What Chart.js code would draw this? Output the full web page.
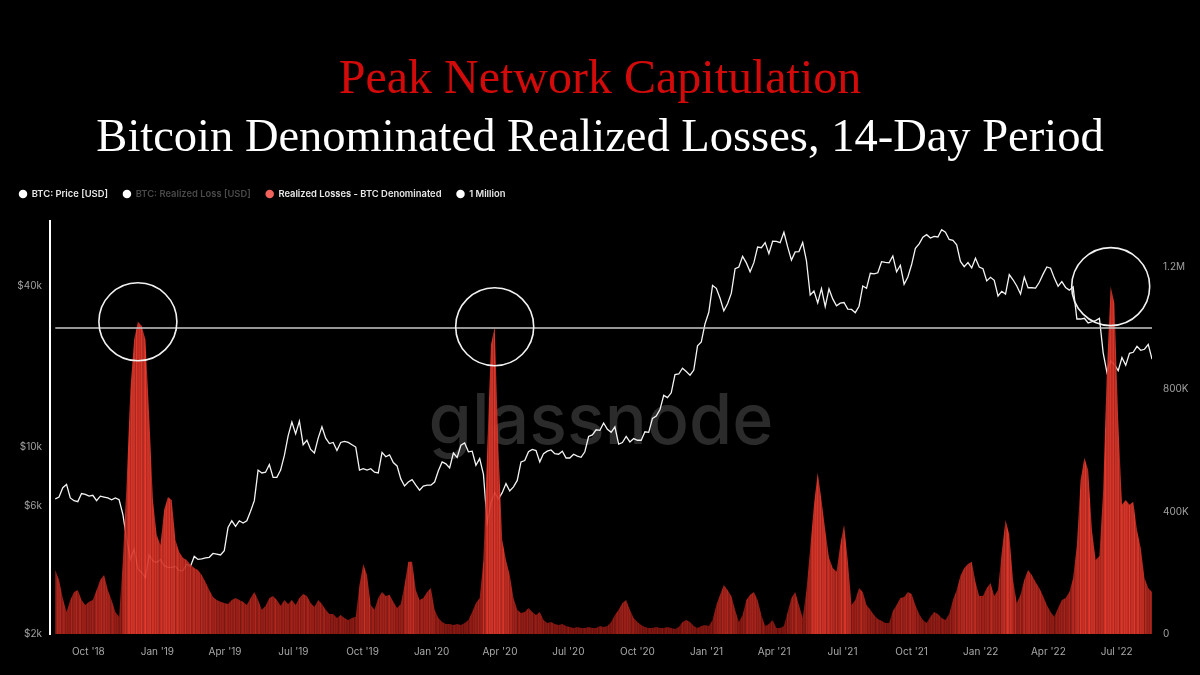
<!DOCTYPE html>
<html>
<head>
<meta charset="utf-8">
<script src="https://cdn.jsdelivr.net/npm/chart.js@4.4.1/dist/chart.umd.min.js"></script>
<style>
html,body{margin:0;padding:0;background:#000;}
canvas{display:block;}
</style>
</head>
<body>
<canvas id="c" width="1200" height="675"></canvas>
<script>
// ---------------- data ----------------
const seriesStart = '2018-08-18';
const stepDays = 5;

// BTC price (USD), one value every 5 days from 2018-08-18
const priceUsd = [
6400,6500,7050,7250,6450,6300,6250,6700,6650,6550,
6600,6300,6550,6500,6450,6350,6450,6350,5600,4550,
3800,4150,3500,3400,3250,3950,3750,3700,3800,3600,
3550,3550,3580,3450,3450,3650,3580,3900,3800,3820,
3850,3870,4000,3980,3950,4100,5000,5300,5050,5300,
5200,5300,5750,6300,8200,8000,8050,8600,7700,7700,
8200,9300,11000,12400,11200,12500,10200,10600,9800,9500,
10800,11900,10800,10300,10400,9700,10400,10500,10400,10200,
10000,8200,8300,8200,8300,8050,8000,9550,9200,9350,
8750,8500,7600,7150,7400,7550,7200,6900,7150,7200,
7200,7400,8150,8800,8650,8350,9500,9150,10150,10350,
9600,9650,8550,9050,7900,5200,6200,6750,6400,6750,
7300,6850,7100,7500,8800,8900,9600,9800,9700,8800,
9450,9650,9750,9450,9400,9650,9100,9100,9400,9250,
9150,9600,10950,11100,11600,11550,12300,11650,11350,11900,
10250,10400,10950,10450,10750,10600,10600,11400,11350,12800,
13050,13800,15600,15300,15950,18650,18750,19700,19150,18550,
19400,23900,24700,28900,31900,40200,39200,36000,32300,34300,
37600,46400,47100,51600,48800,45200,48900,55900,55600,58100,
52800,58800,58700,58100,63500,56000,50000,53600,53800,58200,
49700,37000,38300,34600,39100,33500,39000,35800,33700,34500,
34700,32800,32700,31800,33600,40000,39200,44600,44400,44800,
49300,49000,48800,51800,45200,47800,40600,43200,48100,55300,
57500,60900,62200,60400,61300,61000,64900,63600,59700,59200,
57000,49400,47200,48900,46700,50800,47100,46400,41800,43100,
42000,36700,38200,37300,44100,42200,40000,37300,43200,39400,
39400,39300,41300,44300,47100,46600,42800,39900,41500,39500,
38600,39700,30100,30100,30300,29100,29400,29700,30300,22500,
19000,21000,20300,19300,21600,20200,22400,22600,23800,23000,
23200,24200,21300
];

// Realized losses, BTC denominated, 14-day sum (BTC), same dates
const lossBtc = [
209000,177000,118000,72000,111000,137000,144000,111000,95000,105000,
111000,144000,177000,193000,144000,111000,72000,56000,242000,494000,
798000,962000,1020000,1007000,962000,716000,438000,324000,291000,406000,
448000,438000,307000,268000,249000,242000,226000,216000,209000,193000,
170000,144000,121000,111000,105000,101000,98000,111000,118000,111000,
105000,95000,118000,137000,111000,79000,92000,118000,124000,111000,
92000,111000,98000,111000,95000,118000,131000,124000,101000,88000,
111000,98000,79000,65000,65000,52000,62000,52000,46000,52000,
56000,160000,229000,193000,95000,79000,118000,137000,124000,128000,
105000,85000,98000,160000,236000,236000,144000,111000,118000,137000,
150000,79000,52000,39000,33000,33000,29000,33000,29000,36000,
46000,72000,101000,118000,242000,602000,945000,1004000,602000,307000,
242000,193000,118000,79000,69000,72000,85000,72000,62000,72000,
46000,36000,39000,33000,29000,33000,26000,23000,20000,23000,
20000,20000,23000,20000,20000,26000,23000,26000,39000,62000,
79000,101000,111000,79000,52000,39000,29000,23000,20000,20000,
23000,20000,20000,23000,20000,16000,23000,39000,46000,39000,
26000,20000,26000,29000,26000,46000,95000,128000,160000,144000,
124000,79000,39000,62000,111000,128000,137000,111000,62000,26000,
33000,46000,20000,20000,26000,72000,118000,137000,95000,52000,
144000,281000,422000,527000,438000,340000,249000,216000,203000,291000,
357000,242000,95000,111000,150000,137000,95000,79000,62000,49000,
43000,36000,36000,75000,95000,118000,121000,137000,131000,95000,
65000,46000,36000,56000,72000,65000,52000,46000,65000,111000,
144000,190000,216000,229000,236000,170000,124000,124000,150000,167000,
124000,144000,268000,373000,324000,177000,101000,128000,177000,209000,
193000,170000,150000,124000,95000,72000,56000,85000,111000,118000,
137000,183000,291000,504000,576000,536000,340000,242000,255000,471000,
864000,1135000,1080000,700000,422000,438000,422000,432000,340000,281000,
183000,150000,137000
];

const oneMillion = 1000000;

const xRangeDates = ['2018-08-11', '2022-08-17'];
const xTickDates = ['2018-10-01','2019-01-01','2019-04-01','2019-07-01','2019-10-01','2020-01-01','2020-04-01','2020-07-01',
                    '2020-10-01','2021-01-01','2021-04-01','2021-07-01','2021-10-01','2022-01-01','2022-04-01','2022-07-01'];
const xTickLabels = ["Oct '18","Jan '19","Apr '19","Jul '19","Oct '19","Jan '20","Apr '20","Jul '20",
                     "Oct '20","Jan '21","Apr '21","Jul '21","Oct '21","Jan '22","Apr '22","Jul '22"];
const priceTicks = [2000, 6000, 10000, 40000];
const priceRange = [2000, 70100];
const lossTicks = [0, 400000, 800000, 1200000];
const lossRange = [0, 1350000];
const circledPeakDates = ['2018-12-07', '2020-03-25', '2022-06-23'];
const legendNames = ['BTC: Price [USD]', 'BTC: Realized Loss [USD]', 'Realized Losses - BTC Denominated', '1 Million'];
const titleText = 'Peak Network Capitulation';
const subtitleText = 'Bitcoin Denominated Realized Losses, 14-Day Period';
const watermarkText = 'glassnode';

// ---------------- helpers ----------------
function toDay(s) { const [y, m, d] = s.split('-').map(Number); return Date.UTC(y, m - 1, d) / 86400000; }
const startDay = toDay(seriesStart);
const dayX = priceUsd.map((_, i) => startDay + i * stepDays);
const priceData = priceUsd.map((v, i) => ({x: dayX[i], y: v}));
const lossData = lossBtc.map((v, i) => ({x: dayX[i], y: v}));
const millionData = [{x: dayX[0], y: oneMillion}, {x: dayX[dayX.length - 1], y: oneMillion}];
const circledIdx = circledPeakDates.map(d => Math.round((toDay(d) - startDay) / stepDays));

const shadePattern = [1, 0.7, 0.9, 0.76, 0.98, 0.66, 0.86, 1, 0.72, 0.93, 0.8, 0.95, 0.68];
function lossColor(v, k) {
  const dark = [125, 16, 12], bright = [255, 62, 48];
  const t = Math.min(1, Math.pow(v / 380000, 0.55));
  const s = shadePattern[k % shadePattern.length];
  const c = dark.map((d, j) => Math.round((d + (bright[j] - d) * t) * s));
  return `rgba(${c[0]},${c[1]},${c[2]},0.92)`;
}
let fillCache = null;
function lossFill(ctx) {
  const chart = ctx.chart;
  const area = chart.chartArea;
  if (!area) return 'rgba(220,40,30,0.9)';
  const key = area.left + ':' + area.right;
  if (fillCache && fillCache.key === key) return fillCache.g;
  const xs = chart.scales.x;
  const w = area.right - area.left;
  const g = chart.ctx.createLinearGradient(area.left, 0, area.right, 0);
  const n = lossBtc.length;
  for (let i = 0; i < n; i++) {
    const p0 = xs.getPixelForValue(dayX[i]);
    const p1 = i < n - 1 ? xs.getPixelForValue(dayX[i + 1]) : p0 + 3;
    for (let j = 0; j < 3; j++) {
      const px = p0 + (p1 - p0) * j / 3;
      const off = Math.min(1, Math.max(0, (px - area.left) / w));
      g.addColorStop(off, lossColor(lossBtc[i], i * 3 + j));
    }
  }
  fillCache = {key, g};
  return g;
}

const decor = {
  id: 'decor',
  beforeLayout(chart) {
    const lg = chart.legend;
    if (lg && !lg._extraGap) {
      const f = lg.fit;
      lg.fit = function () { f.call(this); this.height += 12; };
      lg._extraGap = true;
    }
  },
  beforeDatasetsDraw(chart) {
    const {ctx, chartArea: a} = chart;
    ctx.save();
    ctx.font = '500 70px Inter, "Open Sans", sans-serif';
    ctx.fillStyle = '#2b2b2b';
    ctx.textAlign = 'center';
    ctx.textBaseline = 'alphabetic';
    ctx.fillText(watermarkText, (a.left + a.right) / 2, a.top + (a.bottom - a.top) * 0.54);
    ctx.restore();
  },
  afterDatasetsDraw(chart) {
    const {ctx} = chart;
    const xs = chart.scales.x, yr = chart.scales.yR;
    ctx.save();
    ctx.strokeStyle = '#f2f2f2';
    ctx.lineWidth = 1.6;
    circledIdx.forEach(i => {
      const cx = xs.getPixelForValue(dayX[i]);
      const cy = yr.getPixelForValue(lossBtc[i]);
      ctx.beginPath();
      ctx.arc(cx, cy, 39, 0, Math.PI * 2);
      ctx.stroke();
    });
    ctx.restore();
  }
};

const legendDot = ['#ffffff', '#ffffff', '#f0625a', '#ffffff'];
const legendText = ['#e8e8e8', '#4a4a4a', '#e8e8e8', '#e8e8e8'];
const tickFont = {family: 'Inter, Roboto, sans-serif', size: 10};

new Chart(document.getElementById('c'), {
  data: {
    datasets: [
      {type: 'line', label: legendNames[0], data: priceData, yAxisID: 'yL', borderColor: '#f4f4f4',
       borderWidth: 1.3, pointRadius: 0, tension: 0, order: 3},
      {type: 'line', label: legendNames[1], data: [], yAxisID: 'yR', hidden: true, order: 4},
      {type: 'line', label: legendNames[2], data: lossData, yAxisID: 'yR', borderWidth: 0, pointRadius: 0,
       tension: 0, fill: 'origin', backgroundColor: lossFill, borderColor: 'rgba(0,0,0,0)', order: 2},
      {type: 'line', label: legendNames[3], data: millionData, yAxisID: 'yR', borderColor: '#c8c8c8',
       borderWidth: 1.5, pointRadius: 0, order: 1}
    ]
  },
  options: {
    responsive: false,
    animation: false,
    devicePixelRatio: 1,
    layout: {padding: {left: 4, right: 4, top: 0, bottom: 0}},
    plugins: {
      title: {display: true, text: titleText, color: '#d20a0a',
              font: {family: '"Liberation Serif", "DejaVu Serif", serif', size: 48, weight: 'normal'},
              padding: {top: 52, bottom: 0}},
      subtitle: {display: true, text: subtitleText, color: '#ffffff',
                 font: {family: '"Liberation Serif", "DejaVu Serif", serif', size: 46.5, weight: 'normal'},
                 padding: {top: 1, bottom: 8}},
      legend: {
        display: true, position: 'top', align: 'start',
        labels: {
          usePointStyle: true, boxWidth: 8, boxHeight: 6, padding: 15,
          font: {family: 'Inter, Roboto, sans-serif', size: 9.4, weight: '600'},
          generateLabels(chart) {
            return chart.data.datasets.map((ds, i) => ({
              text: ds.label, fillStyle: legendDot[i], strokeStyle: legendDot[i], lineWidth: 0,
              pointStyle: 'circle', hidden: false, datasetIndex: i, fontColor: legendText[i]
            }));
          }
        }
      },
      tooltip: {enabled: false}
    },
    scales: {
      x: {
        type: 'linear', min: toDay(xRangeDates[0]), max: toDay(xRangeDates[1]),
        grid: {display: false, drawTicks: false}, border: {display: false},
        afterBuildTicks(s) { s.ticks = xTickDates.map(d => ({value: toDay(d)})); },
        afterFit(s) { s.height = 41; },
        ticks: {color: '#a8a8a8', font: tickFont, padding: 12, autoSkip: false, maxRotation: 0,
                callback(v, i) { return xTickLabels[i]; }}
      },
      yL: {
        type: 'logarithmic', position: 'left', min: priceRange[0], max: priceRange[1],
        grid: {display: false, drawTicks: false},
        border: {display: true, color: '#ffffff', width: 2},
        afterBuildTicks(s) { s.ticks = priceTicks.map(v => ({value: v})); },
        afterFit(s) { s.width = 46; },
        ticks: {color: '#a0a0a0', font: tickFont, padding: 8,
                callback(v) { return '$' + (v / 1000) + 'k'; }}
      },
      yR: {
        type: 'linear', position: 'right', min: lossRange[0], max: lossRange[1],
        grid: {display: false, drawTicks: false},
        border: {display: false},
        afterBuildTicks(s) { s.ticks = lossTicks.map(v => ({value: v})); },
        afterFit(s) { s.width = 44; },
        ticks: {color: '#a0a0a0', font: tickFont, padding: 11,
                callback(v) { return v === 0 ? '0' : v >= 1000000 ? (v / 1000000) + 'M' : (v / 1000) + 'K'; }}
      }
    }
  },
  plugins: [decor]
});
</script>
</body>
</html>
